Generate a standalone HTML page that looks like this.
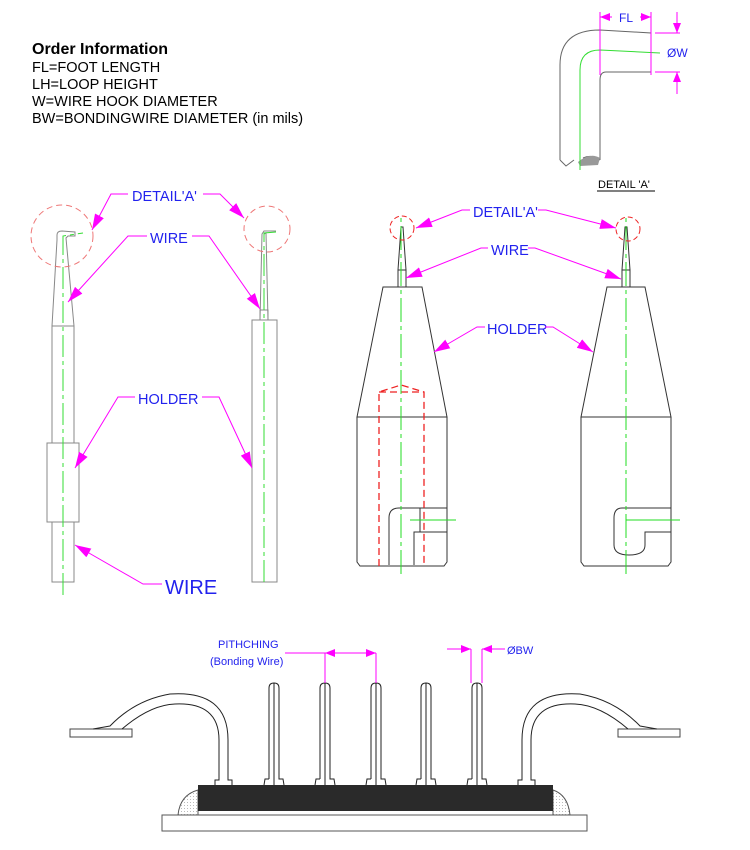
<!DOCTYPE html>
<html><head><meta charset="utf-8"><style>
html,body{margin:0;padding:0;background:#fff;}
svg{display:block;}
text{font-family:"Liberation Sans",Arial,sans-serif;}
</style></head><body>
<svg width="750" height="850" viewBox="0 0 750 850" xmlns="http://www.w3.org/2000/svg">
<defs>
<marker id="ar" markerWidth="10" markerHeight="8" refX="10" refY="4" orient="auto" markerUnits="userSpaceOnUse">
<path d="M0,0 L10,4 L0,8 Z" fill="#ff00ff"/></marker>
<marker id="arb" markerWidth="16" markerHeight="10" refX="16" refY="5" orient="auto" markerUnits="userSpaceOnUse">
<path d="M0,0 L16,5 L0,10 Z" fill="#ff00ff"/></marker>
<pattern id="dots" width="3" height="3" patternUnits="userSpaceOnUse"><rect width="3" height="3" fill="#fff"/><rect x="1" y="1" width="1" height="1" fill="#bbb"/></pattern>
</defs>

<text x="32" y="54" font-size="16" font-weight="bold" fill="#000">Order Information</text>
<g font-size="14.5" fill="#000">
<text x="32" y="72">FL=FOOT LENGTH</text>
<text x="32" y="89">LH=LOOP HEIGHT</text>
<text x="32" y="106">W=WIRE HOOK DIAMETER</text>
<text x="32" y="123">BW=BONDINGWIRE DIAMETER (in mils)</text>
</g>

<g fill="none" stroke="#666" stroke-width="1">
<path d="M560,160 L560,65 Q560,30 600,30 L651,33 L651,72 L606,72 Q600,72 600,80 L600,160"/>
<path d="M560,160 L566,166 L574,160 M583,158 Q592,154 600,160"/>
</g>
<path d="M578,162 Q590,152 600,158 L598,165 L580,166 Z" fill="#999"/>
<path d="M580,170 L580,70 Q580,50 600,50 L660,53" fill="none" stroke="#33dd33" stroke-width="1"/>
<g stroke="#ff00ff" stroke-width="1" fill="none">
<path d="M600,12 L600,75 M651,12 L651,75"/>
<path d="M612,17 L600,17" marker-end="url(#ar)"/><path d="M640,17 L651,17" marker-end="url(#ar)"/>
<path d="M655,33 L680,33 M655,72 L680,72"/>
<path d="M677,12 L677,33" marker-end="url(#ar)"/><path d="M677,94 L677,72" marker-end="url(#ar)"/>
</g>
<text x="619" y="22" font-size="12" fill="#2222ee">FL</text>
<text x="667" y="57" font-size="12" fill="#2222ee">ØW</text>
<text x="598" y="188" font-size="11" fill="#000">DETAIL 'A'</text>
<line x1="597" y1="191" x2="655" y2="191" stroke="#000" stroke-width="1"/>

<g fill="none" stroke="#888" stroke-width="1">
<path d="M52,326 L57,240 L57,235 Q57,231 62,231 L75,232 L75,236 L68,236 L66,238 L74,326"/>
<rect x="52" y="326" width="22" height="117"/>
<rect x="47" y="443" width="32" height="79"/>
<rect x="52" y="522" width="22" height="60"/>
</g>
<path d="M63,595 L63,236 L83,233" fill="none" stroke="#33dd33" stroke-width="1" stroke-dasharray="22,4,4,4"/>
<circle cx="62" cy="236" r="31" fill="none" stroke="#ee7777" stroke-width="1" stroke-dasharray="6,4"/>

<g fill="none" stroke="#888" stroke-width="1">
<path d="M260,320 L262,234 L264,231 L276,231 M264,234 L266,233 L268,320"/>
<rect x="252" y="320" width="25" height="262"/>
<rect x="260" y="310" width="8" height="10"/>
</g>
<path d="M264,582 L264,233 L276,232" fill="none" stroke="#33dd33" stroke-width="1" stroke-dasharray="22,4,4,4"/>
<circle cx="267" cy="229" r="23" fill="none" stroke="#ee7777" stroke-width="1" stroke-dasharray="6,4"/>

<g font-size="14.5" fill="#2222ee">
<text x="132" y="201">DETAIL'A'</text>
<text x="150" y="243">WIRE</text>
<text x="138" y="404">HOLDER</text>
</g>
<text x="165" y="594" font-size="20" fill="#2222ee">WIRE</text>
<g stroke="#ff00ff" stroke-width="1" fill="none">
<path d="M128,194 L111,194 L92,230" marker-end="url(#arb)"/>
<path d="M203,194 L220,194 L244,218" marker-end="url(#arb)"/>
<path d="M147,236 L128,236 L68,302" marker-end="url(#arb)"/>
<path d="M192,236 L209,236 L260,309" marker-end="url(#arb)"/>
<path d="M135,397 L118,397 L75,468" marker-end="url(#arb)"/>
<path d="M202,397 L219,397 L252,468" marker-end="url(#arb)"/>
<path d="M162,584 L143,584 L75,545" marker-end="url(#arb)"/>
</g>

<g fill="none" stroke="#333" stroke-width="1">
<path d="M383,287 L422,287 L447,417 L357,417 Z"/>
<path d="M357,417 L357,562 L360,566 L444,566 L447,562 L447,417"/>
<path d="M398,287 L398,270 L406,270 L406,287 M398,270 L401,227 L403,227 L406,270"/>
<path d="M389,565 L389,518 Q389,508 399,508 L447,508 M420,508 L420,532 M414,565 L414,532 L447,532"/>
</g>
<path d="M379,566 L379,392 L401,385 L424,392 L424,566 M379,392 L424,392" fill="none" stroke="#ee2222" stroke-width="1.3" stroke-dasharray="7,4"/>
<path d="M401,574 L401,215" fill="none" stroke="#22dd22" stroke-width="1" stroke-dasharray="24,4,4,4"/>
<path d="M410,520 L456,520" stroke="#22dd22" stroke-width="1"/>
<circle cx="402" cy="228" r="12" fill="none" stroke="#ee2222" stroke-width="1" stroke-dasharray="5,3"/>

<g fill="none" stroke="#333" stroke-width="1">
<path d="M607,287 L645,287 L671,417 L581,417 Z"/>
<path d="M581,417 L581,562 L584,566 L668,566 L671,562 L671,417"/>
<path d="M622,287 L622,270 L630,270 L630,287 M622,270 L625,227 L627,227 L630,270"/>
<path d="M671,508 L622,508 Q614,508 614,518 L614,545 Q614,555 629,555 Q645,555 645,545 L645,532 L671,532"/>
</g>
<path d="M626,574 L626,215" fill="none" stroke="#22dd22" stroke-width="1" stroke-dasharray="24,4,4,4"/>
<path d="M626,520 L680,520" stroke="#22dd22" stroke-width="1"/>
<circle cx="628" cy="229" r="12" fill="none" stroke="#ee2222" stroke-width="1" stroke-dasharray="5,3"/>

<g font-size="14.5" fill="#2222ee">
<text x="473" y="217">DETAIL'A'</text>
<text x="491" y="255">WIRE</text>
<text x="487" y="334">HOLDER</text>
</g>
<g stroke="#ff00ff" stroke-width="1" fill="none">
<path d="M470,210 L462,210 L416,228" marker-end="url(#arb)"/>
<path d="M538,210 L546,210 L616,228" marker-end="url(#arb)"/>
<path d="M488,248 L481,248 L406,278" marker-end="url(#arb)"/>
<path d="M528,248 L535,248 L621,279" marker-end="url(#arb)"/>
<path d="M485,327 L477,327 L434,352" marker-end="url(#arb)"/>
<path d="M545,327 L553,327 L593,352" marker-end="url(#arb)"/>
</g>

<path d="M178,815 Q180,795 198,790 L198,815 Z" fill="url(#dots)" stroke="#555" stroke-width="1"/>
<path d="M570,815 Q568,795 553,790 L553,815 Z" fill="url(#dots)" stroke="#555" stroke-width="1"/>
<rect x="162" y="815" width="425" height="16" fill="#fff" stroke="#555" stroke-width="1"/>
<rect x="198" y="785" width="355" height="26" fill="#2a2a2a"/>

<rect x="70" y="729" width="62" height="8" fill="#fff" stroke="#444" stroke-width="1"/>
<rect x="618" y="729" width="62" height="8" fill="#fff" stroke="#444" stroke-width="1"/>
<g fill="none" stroke="#222" stroke-width="1">
<path d="M93,729 L110,726 Q135,700 170,694 Q228,690 228,740 L228,780 L232,780 L232,785 M122,729 Q150,705 175,704 Q219,702 219,740 L219,780 L215,780 L215,785"/>
<path d="M657,729 L640,726 Q615,700 580,694 Q522,690 522,740 L522,780 L518,780 L518,785 M628,729 Q600,705 575,704 Q531,702 531,740 L531,780 L535,780 L535,785"/>
</g>
<g fill="none" stroke="#222" stroke-width="1">
<path d="M269,779 L269,688 Q269,683 274,683 Q279,683 279,688 L279,779 L283,779 L284,785 M269,779 L265,779 L264,785 M274,683 L274,785"/>
<path d="M320,779 L320,688 Q320,683 325,683 Q330,683 330,688 L330,779 L334,779 L335,785 M320,779 L316,779 L315,785 M325,683 L325,785"/>
<path d="M371,779 L371,688 Q371,683 376,683 Q381,683 381,688 L381,779 L385,779 L386,785 M371,779 L367,779 L366,785 M376,683 L376,785"/>
<path d="M421,779 L421,688 Q421,683 426,683 Q431,683 431,688 L431,779 L435,779 L436,785 M421,779 L417,779 L416,785 M426,683 L426,785"/>
<path d="M472,779 L472,688 Q472,683 477,683 Q482,683 482,688 L482,779 L486,779 L487,785 M472,779 L468,779 L467,785 M477,683 L477,785"/>
</g>
<g stroke="#ff00ff" stroke-width="1" fill="none">
<path d="M325,653 L325,683 M376,653 L376,683 M285,653 L325,653"/>
<path d="M350,653 L325,653" marker-end="url(#ar)"/><path d="M350,653 L376,653" marker-end="url(#ar)"/>
<path d="M471,649 L471,683 M482,649 L482,683"/>
<path d="M447,649 L471,649" marker-end="url(#ar)"/><path d="M505,649 L482,649" marker-end="url(#ar)"/>
</g>
<text x="218" y="648" font-size="11" fill="#2222ee">PITHCHING</text>
<text x="210" y="665" font-size="11" fill="#2222ee">(Bonding Wire)</text>
<text x="507" y="654" font-size="11" fill="#2222ee">ØBW</text>
</svg>
</body></html>
